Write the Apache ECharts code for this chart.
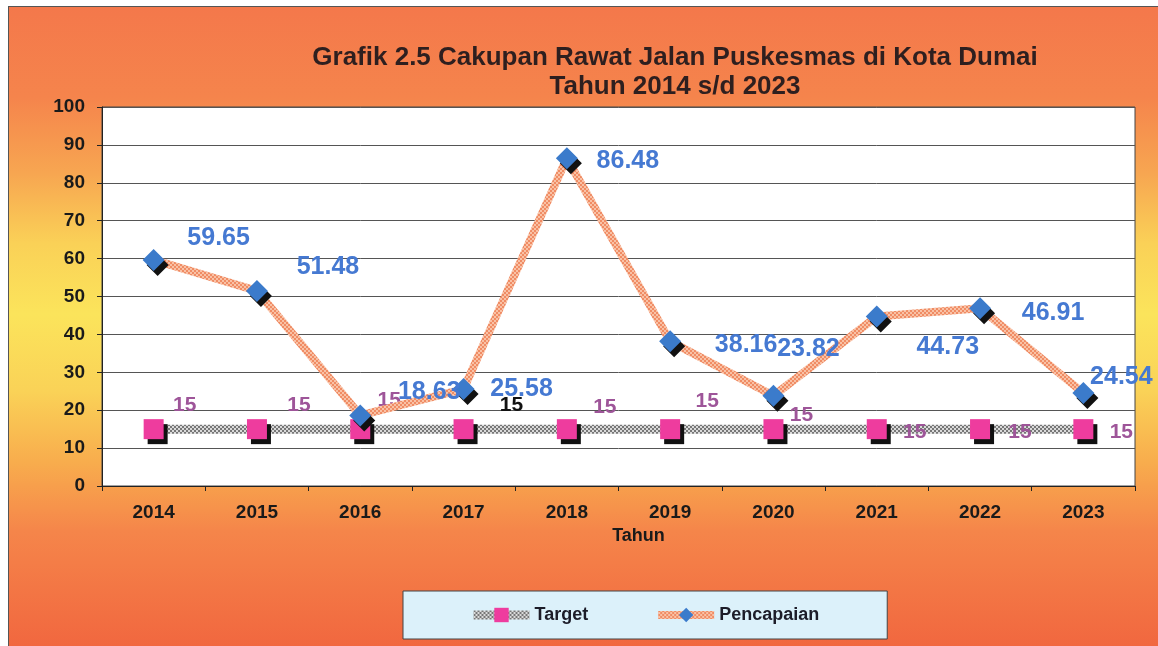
<!DOCTYPE html>
<html>
<head>
<meta charset="utf-8">
<script src="https://cdn.jsdelivr.net/npm/echarts@6/dist/echarts.min.js"></script>
<style>
  html, body { margin: 0; padding: 0; background: #fff; }
  #frame {
    position: absolute; left: 8px; top: 6px; width: 1150px; height: 640px;
    border-top: 1px solid #555; border-left: 1px solid #555;
    background: linear-gradient(to bottom,
      #f4784b 0%, #f5844c 14%, #f7a651 26%, #fad157 37%, #fbe45b 48%,
      #fad257 60%, #f8ad4d 71%, #f5854a 82%, #f1673f 100%);
  }
  #chart { position: absolute; left: 0; top: 0; width: 1158px; height: 646px; }
</style>
</head>
<body>
<div id="frame"></div>
<div id="chart"></div>
<script>
// data
const years = ['2014', '2015', '2016', '2017', '2018', '2019', '2020', '2021', '2022', '2023'];
const target = [15, 15, 15, 15, 15, 15, 15, 15, 15, 15];
const pencapaian = [59.65, 51.48, 18.63, 25.58, 86.48, 38.16, 23.82, 44.73, 46.91, 24.54];
const yTicks = [0, 10, 20, 30, 40, 50, 60, 70, 80, 90, 100];

// label placement (style, not data): label centre relative to the marker
const targetLabelOffset = [[31, -24], [42, -24], [29, -29], [48, -24], [38, -22], [37, -28], [28, -14], [38, 3], [40, 3], [38, 3]];
const targetLabelColor = ['#9e5599', '#9e5599', '#9e5599', '#111', '#9e5599', '#9e5599', '#9e5599', '#9e5599', '#9e5599', '#9e5599'];
const pencLabelOffset = [[65, -22], [71, -24], [69, -23], [58, 0], [61, 3], [76, 4], [35, -47], [71, 31], [73, 5], [38, -16]];

function hatch(c1, c2) {
    const cv = document.createElement('canvas');
    cv.width = 4; cv.height = 4;
    const ctx = cv.getContext('2d');
    ctx.fillStyle = c1; ctx.fillRect(0, 0, 4, 4);
    ctx.fillStyle = c2; ctx.fillRect(0, 0, 2, 2); ctx.fillRect(2, 2, 2, 2);
    return { image: cv, repeat: 'repeat' };
}

const shadow = { shadowColor: '#111', shadowBlur: 0, shadowOffsetX: 4, shadowOffsetY: 5 };
const font = 'Liberation Sans, Arial, sans-serif';

const chart = echarts.init(document.getElementById('chart'));
chart.setOption({
    backgroundColor: 'transparent',
    animation: false,
    title: {
        text: 'Grafik 2.5 Cakupan Rawat Jalan Puskesmas di Kota Dumai\nTahun 2014 s/d 2023',
        left: 670, top: 38, textAlign: 'center',
        textStyle: { fontFamily: font, fontWeight: 'bold', fontSize: 26, lineHeight: 29, color: '#2e1f1f' }
    },
    legend: {
        left: 403, top: 591,
        padding: [15, 68, 15, 66],
        itemGap: 66, itemWidth: 56, itemHeight: 18,
        backgroundColor: '#dcf1fa', borderColor: '#444', borderWidth: 1,
        lineStyle: { width: 'inherit' },
        textStyle: { fontFamily: font, fontWeight: 'bold', fontSize: 18, color: '#1c1c28' },
        data: ['Target', 'Pencapaian']
    },
    grid: {
        left: 102, top: 107, right: 23, bottom: 160,
        show: true, backgroundColor: '#fff', borderColor: '#444', borderWidth: 1
    },
    xAxis: {
        type: 'category', data: years, boundaryGap: true,
        name: 'Tahun', nameLocation: 'middle', nameGap: 38,
        nameTextStyle: { fontFamily: font, fontWeight: 'bold', fontSize: 18, color: '#1a1a1a', padding: [0, 0, 0, 40] },
        axisLine: { lineStyle: { color: '#222', width: 1 } },
        axisTick: { show: true, length: 5, lineStyle: { color: '#222' } },
        axisLabel: { margin: 17, fontFamily: font, fontWeight: 'bold', fontSize: 19, color: '#1a1a1a' }
    },
    yAxis: {
        type: 'value', min: yTicks[0], max: yTicks[yTicks.length - 1], interval: 10,
        axisLine: { show: true, lineStyle: { color: '#222', width: 1 } },
        axisTick: { show: true, length: 5, lineStyle: { color: '#222' } },
        axisLabel: { margin: 17, fontFamily: font, fontWeight: 'bold', fontSize: 19, color: '#1a1a1a' },
        splitLine: { lineStyle: { color: '#555', width: 1 } }
    },
    series: [
        {
            name: 'Target', type: 'line',
            symbol: 'rect', symbolSize: 20,
            itemStyle: Object.assign({ color: '#ee3c9e' }, shadow),
            lineStyle: { width: 9, color: hatch('#dadada', '#777777') },
            data: target.map((v, i) => ({
                value: v,
                label: { offset: targetLabelOffset[i], color: targetLabelColor[i] }
            })),
            label: {
                show: true, position: 'inside',
                fontFamily: font, fontWeight: 'bold', fontSize: 21
            },
            z: 2
        },
        {
            name: 'Pencapaian', type: 'line',
            symbol: 'diamond', symbolSize: 22,
            itemStyle: Object.assign({ color: '#3b7bcb' }, shadow),
            lineStyle: { width: 8, color: hatch('#f9c2a6', '#f08c64') },
            data: pencapaian.map((v, i) => ({
                value: v,
                label: { offset: pencLabelOffset[i] }
            })),
            label: {
                show: true, position: 'inside', color: '#4579d2',
                fontFamily: font, fontWeight: 'bold', fontSize: 25
            },
            z: 3
        }
    ]
});
</script>
</body>
</html>
